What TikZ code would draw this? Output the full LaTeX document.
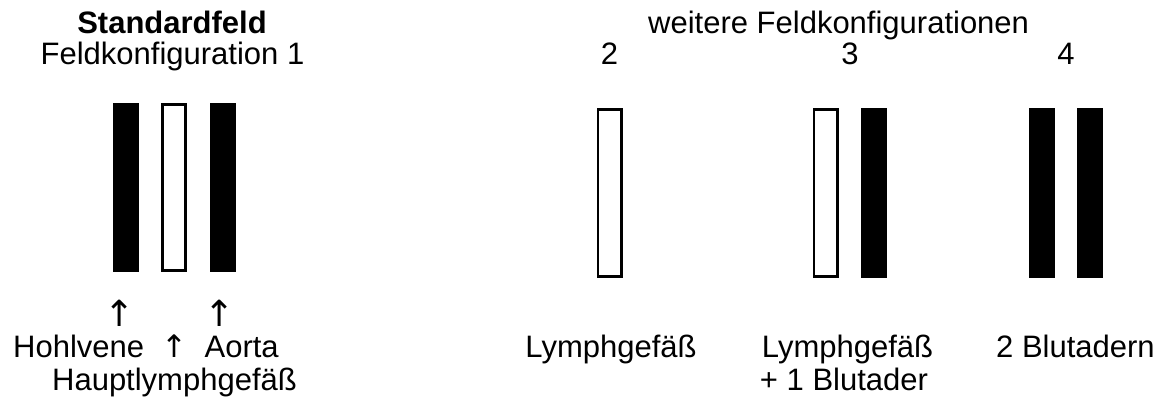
\documentclass[tikz,border=0pt]{standalone}
\usepackage{fontspec}
\setmainfont{Liberation Sans}
\newfontfamily\arrowfont{DejaVu Sans}
\begin{document}
\begin{tikzpicture}[x=1pt,y=-1pt,
  lbl/.style={font=\fontsize{31pt}{37pt}\selectfont, inner sep=0pt, anchor=base},
  bigarrow/.style={font=\fontsize{36pt}{40pt}\selectfont\arrowfont, inner sep=0pt, anchor=base},
  fullbar/.style={rectangle, fill=black, draw=none, inner sep=0pt,
    minimum width=26pt, minimum height=170pt},
  hollowbar/.style={rectangle, fill=white, draw=black, line width=2.7pt, inner sep=0pt,
    minimum width=23.3pt, minimum height=167.3pt}]
\useasboundingbox (0,0) rectangle (1170,412);

% headings
\node[lbl, font=\fontsize{31pt}{37pt}\selectfont\bfseries] (std) at (172,34) {Standardfeld};
\node[lbl] (fk1) at (172.5,64) {Feldkonfiguration 1};
\node[lbl, anchor=base west] (weit) at (648,34) {weitere Feldkonfigurationen};
\node[lbl] (n2) at (609.5,64) {2};
\node[lbl] (n3) at (850,64) {3};
\node[lbl] (n4) at (1066,64) {4};

% configuration 1: vein, main lymph vessel, aorta
\node[fullbar, minimum height=169pt] (hv) at (126,187.5) {};
\node[hollowbar, minimum height=166.3pt] (hl) at (174,187.5) {};
\node[fullbar, minimum height=169pt] (ao) at (222.5,187.5) {};

% configuration 2
\node[hollowbar] (l2) at (609.5,193) {};
% configuration 3
\node[hollowbar] (l3) at (825.5,193) {};
\node[fullbar] (b3) at (874,193) {};
% configuration 4
\node[fullbar] (b4a) at (1042,193) {};
\node[fullbar] (b4b) at (1090,193) {};

% pointers and labels of configuration 1
\node[bigarrow] (ahv) at (120,326) {↑};
\node[bigarrow] (aao) at (220,326) {↑};
\node[lbl, anchor=base west] (lbl1) at (13,357) {Hohlvene\ \ {\arrowfont ↑}\ \ Aorta};
\node[lbl] (lbl1b) at (174.5,390) {Hauptlymphgefäß};

% labels of the other configurations
\node[lbl] (lbl2) at (611,357) {Lymphgefäß};
\node[lbl] (lbl3) at (847.5,357) {Lymphgefäß};
\node[lbl] (lbl3b) at (844,390) {+ 1 Blutader};
\node[lbl] (lbl4) at (1075.5,357) {2 Blutadern};
\end{tikzpicture}
\end{document}
